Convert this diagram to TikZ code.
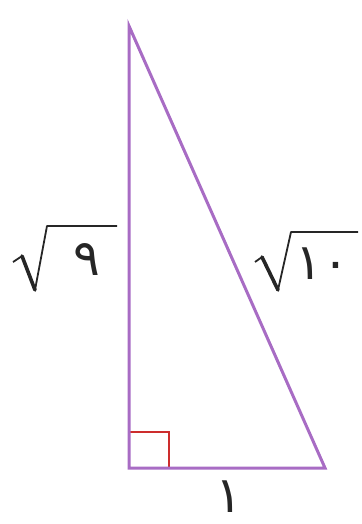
\documentclass[tikz,border=0pt]{standalone}
\usepackage{fontspec}
\newfontfamily\arabicfont[Script=Arabic]{DejaVu Sans}
\usetikzlibrary{calc}
\definecolor{trisideclr}{RGB}{168,108,196}
\definecolor{rightclr}{RGB}{205,45,45}

\begin{document}
\begin{tikzpicture}[x=0.5pt,y=-0.5pt,
    triside/.style={draw=trisideclr,line width=1.5pt,line join=miter},
    rightmark/.style={draw=rightclr,line width=1pt},
    radical/.style={draw=black!85,line width=0.9pt,line join=round},
    radstem/.style={draw=black!85,line width=1.8pt,line cap=round},
    digit/.style={font=\arabicfont\fontsize{25}{29}\selectfont,inner sep=0pt,text=black!85}
]
\useasboundingbox (0,0) rectangle (362,524);
% vertices
\coordinate (top) at (129,26);
\coordinate (corner) at (129,468);
\coordinate (foot) at (325,468);
% right angle mark
\draw[rightmark] (corner) rectangle ++(40,-36);
\draw[triside] (top)--(corner)--(foot)--cycle;
% labels
\node[digit] (nine) at (87,260) {٩};
\node[digit] (ten) at (322,264) {١٠};
\node[digit] (one) at (229,497) {١};
% radical signs
\draw[radical] (13,262)--(22,256)--(35,290)--(47,226)--(117,226);
\draw[radstem] (22,256)--(35,290);
\draw[radical] (255,262)--(262,257)--(278,290)--(291,232)--(358,232);
\draw[radstem] (262,257)--(278,290);
\end{tikzpicture}
\end{document}
